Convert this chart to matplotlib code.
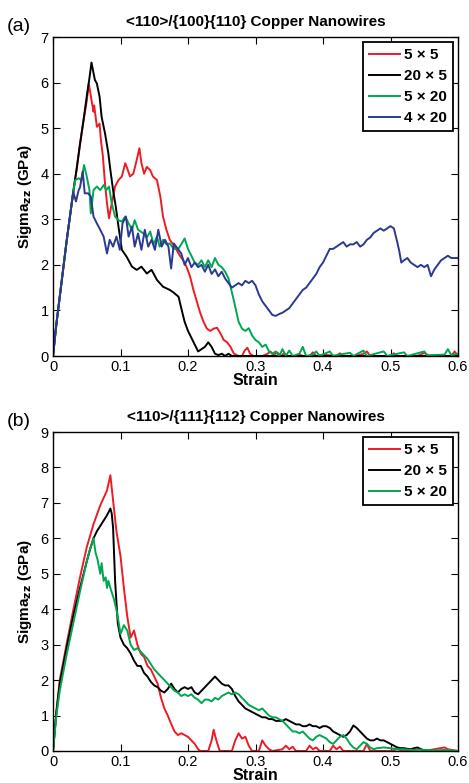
import matplotlib
matplotlib.use("Agg")
import matplotlib.pyplot as plt

plt.rcParams['font.family'] = ['Liberation Sans', 'DejaVu Sans']

# ---------------- Panel (a) data ----------------
a_strain_5x5 = [0, 0.005, 0.01, 0.015, 0.02, 0.025, 0.03, 0.035, 0.04, 0.045,
                0.05, 0.053, 0.057, 0.06, 0.061, 0.065, 0.069, 0.071, 0.074, 0.077,
                0.08, 0.083, 0.087, 0.092, 0.097, 0.102, 0.107, 0.11, 0.114, 0.119,
                0.124, 0.128, 0.131, 0.135, 0.139, 0.144, 0.148, 0.154, 0.159, 0.163,
                0.168, 0.173, 0.178, 0.183, 0.188, 0.193, 0.198, 0.203, 0.208, 0.213,
                0.218, 0.223, 0.228, 0.233, 0.238, 0.243, 0.248, 0.253, 0.258, 0.263,
                0.268, 0.275, 0.28, 0.284, 0.288, 0.292, 0.297, 0.31, 0.318, 0.322,
                0.327, 0.332, 0.338, 0.342, 0.348, 0.36, 0.364, 0.37, 0.38, 0.385,
                0.39, 0.4, 0.42, 0.425, 0.43, 0.45, 0.46, 0.465, 0.47, 0.5,
                0.505, 0.51, 0.54, 0.55, 0.555, 0.56, 0.59, 0.595, 0.6]
a_sigma_5x5 = [0, 0.7, 1.3, 1.9, 2.5, 3.05, 3.6, 4.1, 4.65, 5.15,
               5.6, 5.98, 5.62, 5.36, 5.5, 5.03, 5.1, 4.74, 4.37, 3.79,
               3.35, 3.02, 3.35, 3.72, 3.86, 3.94, 4.23, 4.12, 3.94, 4.0,
               4.3, 4.56, 4.23, 4.0, 4.15, 4.08, 3.94, 3.86, 3.5, 3.06,
               2.77, 2.55, 2.45, 2.33, 2.2, 2.1, 1.95, 1.75, 1.45, 1.2,
               0.95, 0.75, 0.6, 0.55, 0.6, 0.62, 0.5, 0.35, 0.3, 0.2,
               0.05, 0, 0, 0.12, 0.18, 0.05, 0, 0, 0.05, 0.1,
               0.02, 0.08, 0, 0.06, 0, 0, 0.04, 0, 0, 0.08,
               0, 0.03, 0, 0.06, 0, 0, 0.05, 0.1, 0, 0,
               0.06, 0, 0, 0.07, 0.02, 0, 0, 0.1, 0]

a_strain_20x5 = [0, 0.005, 0.01, 0.015, 0.02, 0.025, 0.03, 0.035, 0.04, 0.045,
                 0.05, 0.054, 0.057, 0.062, 0.065, 0.069, 0.072, 0.077, 0.082, 0.085,
                 0.089, 0.093, 0.097, 0.102, 0.109, 0.117, 0.124, 0.131, 0.139, 0.146,
                 0.154, 0.163, 0.173, 0.178, 0.186, 0.19, 0.195, 0.2, 0.205, 0.21,
                 0.215, 0.22, 0.225, 0.23, 0.235, 0.24, 0.245, 0.25, 0.255, 0.26,
                 0.265, 0.27, 0.6]
a_sigma_20x5 = [0, 0.7, 1.3, 1.9, 2.5, 3.05, 3.6, 4.1, 4.65, 5.15,
                5.7, 6.1, 6.44, 6.06, 5.98, 5.69, 5.25, 4.89, 4.45, 4.08,
                3.64, 3.28, 2.84, 2.33, 2.18, 1.96, 1.89, 1.96, 1.81, 1.89,
                1.67, 1.52, 1.45, 1.4, 1.3, 1.05, 0.75, 0.55, 0.4, 0.25,
                0.1, 0.15, 0.2, 0.3, 0.2, 0.05, 0.02, 0.05, 0, 0.05,
                0, 0, 0]

a_strain_5x20 = [0, 0.005, 0.01, 0.015, 0.02, 0.025, 0.03, 0.033, 0.038, 0.042,
                 0.046, 0.05, 0.054, 0.056, 0.06, 0.065, 0.07, 0.075, 0.079, 0.083,
                 0.087, 0.092, 0.097, 0.102, 0.107, 0.112, 0.117, 0.121, 0.126, 0.134,
                 0.139, 0.144, 0.149, 0.154, 0.158, 0.163, 0.168, 0.173, 0.179, 0.186,
                 0.19, 0.195, 0.2, 0.205, 0.21, 0.215, 0.22, 0.225, 0.23, 0.235,
                 0.24, 0.245, 0.25, 0.255, 0.26, 0.265, 0.27, 0.275, 0.28, 0.285,
                 0.29, 0.295, 0.3, 0.305, 0.31, 0.315, 0.32, 0.325, 0.33, 0.335,
                 0.34, 0.345, 0.35, 0.355, 0.365, 0.37, 0.375, 0.385, 0.39, 0.395,
                 0.41, 0.415, 0.42, 0.44, 0.445, 0.46, 0.465, 0.47, 0.49, 0.495,
                 0.5, 0.52, 0.525, 0.53, 0.55, 0.555, 0.56, 0.58, 0.585, 0.59,
                 0.6]
a_sigma_5x20 = [0, 0.7, 1.3, 1.9, 2.5, 3.05, 3.6, 3.86, 3.9, 3.86,
                4.19, 3.94, 3.64, 3.13, 3.64, 3.72, 3.64, 3.75, 3.64, 3.72,
                3.35, 3.06, 2.98, 2.95, 3.06, 2.91, 2.77, 2.98, 2.77, 2.69,
                2.6, 2.73, 2.45, 2.62, 2.4, 2.55, 2.45, 2.47, 2.35, 2.36,
                2.45, 2.58, 2.35, 2.2, 2.05, 2.0, 2.1, 1.95, 2.1, 1.95,
                2.15, 2.0, 1.95, 1.85, 1.7, 1.4, 1.08, 0.75, 0.6, 0.55,
                0.61, 0.45, 0.35, 0.3, 0.2, 0.25, 0.1, 0.05, 0.1, 0,
                0.15, 0, 0.12, 0, 0.05, 0.2, 0, 0.03, 0.1, 0,
                0.1, 0, 0.02, 0.07, 0, 0.12, 0, 0.02, 0.1, 0,
                0.02, 0.08, 0, 0.02, 0.1, 0, 0.02, 0.03, 0.15, 0.02,
                0.05]

a_strain_4x20 = [0, 0.005, 0.01, 0.015, 0.02, 0.025, 0.03, 0.034, 0.038, 0.04,
                 0.044, 0.047, 0.052, 0.056, 0.06, 0.065, 0.07, 0.075, 0.08, 0.084,
                 0.089, 0.094, 0.099, 0.103, 0.108, 0.112, 0.117, 0.121, 0.126, 0.131,
                 0.136, 0.141, 0.146, 0.151, 0.156, 0.161, 0.166, 0.171, 0.175, 0.179,
                 0.186, 0.19, 0.195, 0.2, 0.205, 0.21, 0.215, 0.22, 0.225, 0.23,
                 0.235, 0.24, 0.245, 0.25, 0.255, 0.26, 0.265, 0.27, 0.275, 0.28,
                 0.285, 0.29, 0.295, 0.3, 0.305, 0.31, 0.315, 0.32, 0.325, 0.33,
                 0.335, 0.34, 0.345, 0.35, 0.355, 0.36, 0.365, 0.37, 0.375, 0.38,
                 0.385, 0.39, 0.395, 0.4, 0.405, 0.41, 0.415, 0.42, 0.425, 0.43,
                 0.435, 0.44, 0.445, 0.45, 0.455, 0.46, 0.465, 0.47, 0.475, 0.48,
                 0.485, 0.49, 0.495, 0.5, 0.505, 0.51, 0.513, 0.516, 0.52, 0.525,
                 0.53, 0.535, 0.54, 0.545, 0.55, 0.555, 0.56, 0.565, 0.57, 0.575,
                 0.58, 0.585, 0.59, 0.595, 0.6]
a_sigma_4x20 = [0, 0.7, 1.3, 1.9, 2.5, 3.05, 3.6, 3.39, 3.64, 3.7,
                4.05, 3.57, 3.57, 3.5, 3.06, 2.91, 2.77, 2.62, 2.25, 2.55,
                2.4, 2.62, 2.33, 2.91, 3.06, 2.62, 2.84, 2.4, 2.69, 2.33,
                2.77, 2.4, 2.55, 2.33, 2.77, 2.4, 2.55, 2.4, 1.92, 2.47,
                2.33, 2.25, 2.0, 2.15, 1.95, 2.05, 1.95, 2.0, 1.85, 2.0,
                1.8, 1.9, 1.75, 1.85, 1.7, 1.6, 1.5, 1.55, 1.6, 1.55,
                1.65, 1.6, 1.65, 1.55, 1.35, 1.2, 1.1, 1.0, 0.9, 0.88,
                0.92, 0.95, 1.0, 1.05, 1.15, 1.25, 1.35, 1.45, 1.5, 1.6,
                1.7, 1.8, 1.95, 2.05, 2.2, 2.35, 2.35, 2.4, 2.45, 2.5,
                2.4, 2.45, 2.45, 2.5, 2.4, 2.45, 2.55, 2.6, 2.7, 2.75,
                2.8, 2.75, 2.8, 2.85, 2.8, 2.5, 2.3, 2.05, 2.1, 2.15,
                2.05, 2.0, 1.95, 2.0, 1.95, 2.0, 1.75, 1.9, 2.0, 2.1,
                2.15, 2.2, 2.15, 2.15, 2.15]

# ---------------- Panel (b) data ----------------
b_strain_5x5 = [0, 0.005, 0.01, 0.02, 0.03, 0.04, 0.05, 0.06, 0.07, 0.08,
                0.085, 0.089, 0.094, 0.1, 0.105, 0.11, 0.115, 0.12, 0.125, 0.13,
                0.135, 0.14, 0.145, 0.15, 0.155, 0.16, 0.165, 0.17, 0.175, 0.18,
                0.185, 0.19, 0.195, 0.2, 0.205, 0.21, 0.215, 0.218, 0.23, 0.235,
                0.238, 0.242, 0.247, 0.265, 0.27, 0.275, 0.28, 0.285, 0.29, 0.295,
                0.305, 0.31, 0.315, 0.32, 0.325, 0.34, 0.345, 0.35, 0.355, 0.36,
                0.375, 0.38, 0.385, 0.39, 0.395, 0.41, 0.415, 0.42, 0.425, 0.43,
                0.46, 0.465, 0.47, 0.5, 0.51, 0.52, 0.545, 0.55, 0.58, 0.585,
                0.6]
b_sigma_5x5 = [0, 1.1, 2.0, 3.0, 3.97, 4.9, 5.75, 6.4, 6.93, 7.35,
               7.78, 7.07, 6.2, 5.5, 4.6, 3.8, 3.2, 3.4, 3.0, 2.75,
               2.65, 2.4, 2.3, 2.1, 1.9, 1.5, 1.2, 1.0, 0.77, 0.55,
               0.45, 0.5, 0.45, 0.4, 0.3, 0.2, 0.05, 0, 0, 0.3,
               0.6, 0.3, 0, 0, 0.3, 0.5, 0.35, 0.4, 0.15, 0,
               0, 0.3, 0.15, 0.05, 0, 0.05, 0.15, 0.05, 0.12, 0,
               0, 0.15, 0.05, 0.1, 0, 0, 0.15, 0.05, 0.12, 0,
               0, 0.2, 0, 0, 0.05, 0, 0.05, 0, 0.1, 0.05,
               0]

b_strain_20x5 = [0, 0.005, 0.01, 0.02, 0.03, 0.04, 0.05, 0.055, 0.06, 0.065,
                 0.07, 0.075, 0.08, 0.085, 0.087, 0.089, 0.092, 0.096, 0.1, 0.105,
                 0.11, 0.115, 0.12, 0.125, 0.13, 0.135, 0.14, 0.145, 0.15, 0.155,
                 0.16, 0.165, 0.17, 0.175, 0.18, 0.185, 0.19, 0.195, 0.2, 0.205,
                 0.21, 0.215, 0.22, 0.225, 0.23, 0.235, 0.24, 0.245, 0.25, 0.255,
                 0.26, 0.265, 0.27, 0.275, 0.28, 0.285, 0.29, 0.295, 0.3, 0.305,
                 0.31, 0.315, 0.32, 0.325, 0.33, 0.335, 0.34, 0.345, 0.35, 0.355,
                 0.36, 0.365, 0.37, 0.375, 0.38, 0.385, 0.39, 0.395, 0.4, 0.405,
                 0.41, 0.415, 0.42, 0.425, 0.43, 0.435, 0.44, 0.445, 0.45, 0.455,
                 0.46, 0.465, 0.47, 0.475, 0.48, 0.485, 0.49, 0.495, 0.5, 0.505,
                 0.51, 0.515, 0.52, 0.525, 0.53, 0.535, 0.54, 0.545, 0.55, 0.56,
                 0.6]
b_sigma_20x5 = [0, 1.1, 1.9, 2.9, 3.8, 4.6, 5.35, 5.7, 6.0, 6.2,
                6.35, 6.5, 6.65, 6.84, 6.7, 6.3, 4.8, 3.6, 3.2, 3.0,
                2.9, 2.75, 2.55, 2.4, 2.4, 2.2, 2.1, 1.95, 1.85, 1.8,
                1.7, 1.65, 1.75, 1.9, 1.75, 1.65, 1.75, 1.8, 1.75, 1.8,
                1.65, 1.6, 1.7, 1.8, 1.9, 2.0, 2.1, 2.0, 1.9, 1.85,
                1.85, 1.75, 1.55, 1.4, 1.3, 1.2, 1.15, 1.1, 1.05, 1.0,
                0.95, 0.95, 0.9, 0.9, 0.85, 0.85, 0.85, 0.9, 0.85, 0.8,
                0.75, 0.75, 0.7, 0.7, 0.75, 0.7, 0.7, 0.65, 0.7, 0.7,
                0.65, 0.55, 0.5, 0.45, 0.4, 0.45, 0.55, 0.72, 0.65, 0.55,
                0.45, 0.35, 0.3, 0.3, 0.35, 0.3, 0.3, 0.25, 0.2, 0.15,
                0.1, 0.08, 0.08, 0.06, 0.05, 0.08, 0.1, 0.05, 0.02, 0,
                0]

b_strain_5x20 = [0, 0.005, 0.01, 0.02, 0.03, 0.04, 0.05, 0.055, 0.06, 0.063,
                 0.066, 0.07, 0.072, 0.075, 0.078, 0.08, 0.082, 0.085, 0.09, 0.095,
                 0.1, 0.105, 0.11, 0.115, 0.12, 0.125, 0.13, 0.135, 0.14, 0.145,
                 0.15, 0.155, 0.16, 0.165, 0.17, 0.175, 0.18, 0.185, 0.19, 0.195,
                 0.2, 0.205, 0.21, 0.215, 0.22, 0.225, 0.23, 0.235, 0.24, 0.245,
                 0.25, 0.255, 0.26, 0.265, 0.27, 0.275, 0.28, 0.285, 0.29, 0.295,
                 0.3, 0.305, 0.31, 0.315, 0.32, 0.325, 0.33, 0.335, 0.34, 0.345,
                 0.35, 0.355, 0.36, 0.365, 0.37, 0.375, 0.38, 0.385, 0.39, 0.395,
                 0.4, 0.405, 0.41, 0.415, 0.42, 0.425, 0.43, 0.435, 0.44, 0.445,
                 0.45, 0.455, 0.46, 0.465, 0.47, 0.475, 0.48, 0.49, 0.5, 0.51,
                 0.52, 0.53, 0.54, 0.55, 0.56, 0.57, 0.58, 0.6]
b_sigma_5x20 = [0, 1.0, 1.7, 2.7, 3.6, 4.5, 5.35, 5.7, 6.0, 5.6,
                5.4, 5.0, 5.3, 4.8, 4.9, 4.6, 4.8, 4.6, 4.3, 3.9,
                3.3, 3.55, 3.4, 3.0, 2.85, 2.9, 2.8, 2.7, 2.6, 2.45,
                2.3, 2.2, 2.1, 2.0, 1.9, 1.8, 1.7, 1.65, 1.55, 1.6,
                1.55, 1.6, 1.5, 1.45, 1.35, 1.45, 1.45, 1.4, 1.5, 1.45,
                1.55, 1.6, 1.65, 1.6, 1.65, 1.6, 1.5, 1.4, 1.3, 1.25,
                1.2, 1.15, 1.2, 1.1, 1.0, 0.95, 0.95, 0.9, 0.85, 0.75,
                0.65, 0.55, 0.55, 0.5, 0.55, 0.45, 0.35, 0.3, 0.4, 0.45,
                0.4, 0.35, 0.25, 0.2, 0.3, 0.4, 0.45, 0.35, 0.2, 0.1,
                0.05, 0.15, 0.25, 0.2, 0.1, 0.05, 0.08, 0.1, 0.08, 0.05,
                0.05, 0.03, 0.04, 0.03, 0.02, 0.02, 0.03, 0]

labels_a = ['5 × 5', '20 × 5', '5 × 20', '4 × 20']
labels_b = ['5 × 5', '20 × 5', '5 × 20']
colors = ['#ed1c24', '#000000', '#00a651', '#2b3990']

W, H = 469, 783
fig = plt.figure(figsize=(W / 100, H / 100), dpi=100)
ax1 = fig.add_axes([53 / W, 1 - 356 / H, 405 / W, 319 / H])
ax2 = fig.add_axes([53 / W, 1 - 751 / H, 405 / W, 319 / H])


def style(ax, ymax, title, panel):
    ax.set_xlim(0, 0.6)
    ax.set_ylim(0, ymax)
    ax.set_xticks([0, 0.1, 0.2, 0.3, 0.4, 0.5, 0.6])
    ax.set_xticklabels(['0', '0.1', '0.2', '0.3', '0.4', '0.5', '0.6'])
    ax.set_yticks(range(0, ymax + 1))
    ax.tick_params(direction='in', length=5, width=0.8, top=True, right=True,
                   labelsize=10.5, pad=3)
    for sp in ax.spines.values():
        sp.set_linewidth(1.0)
    ax.set_title(title, fontsize=11, fontweight='bold', pad=8)
    ax.set_xlabel('Strain', fontsize=11.5, fontweight='bold', labelpad=-1)
    ax.set_ylabel('Sigma$_{\\mathbf{zz}}$ (GPa)', fontsize=11, fontweight='bold', labelpad=5)
    ax.text(-0.113, 1.034, panel, transform=ax.transAxes, fontsize=14,
            ha='left', va='center')


xs_a = [a_strain_5x5, a_strain_20x5, a_strain_5x20, a_strain_4x20]
ys_a = [a_sigma_5x5, a_sigma_20x5, a_sigma_5x20, a_sigma_4x20]
for x, y, c, lab in zip(xs_a, ys_a, colors, labels_a):
    ax1.plot(x, y, color=c, lw=1.4, label=lab, clip_on=True)
style(ax1, 7, '<110>/{100}{110} Copper Nanowires', '(a)')

xs_b = [b_strain_5x5, b_strain_20x5, b_strain_5x20]
ys_b = [b_sigma_5x5, b_sigma_20x5, b_sigma_5x20]
for x, y, c, lab in zip(xs_b, ys_b, colors, labels_b):
    ax2.plot(x, y, color=c, lw=1.4, label=lab, clip_on=True)
style(ax2, 9, '<110>/{111}{112} Copper Nanowires', '(b)')

for ax in (ax1, ax2):
    leg = ax.legend(loc='upper right', bbox_to_anchor=(0.988, 0.984),
                    borderaxespad=0, fancybox=False, framealpha=1,
                    edgecolor='black', handlelength=2.0, handletextpad=0.3,
                    labelspacing=0.46, borderpad=0.4,
                    prop={'weight': 'bold', 'size': 11})
    leg.get_frame().set_linewidth(1.3)

fig.savefig('out.png', dpi=100)
